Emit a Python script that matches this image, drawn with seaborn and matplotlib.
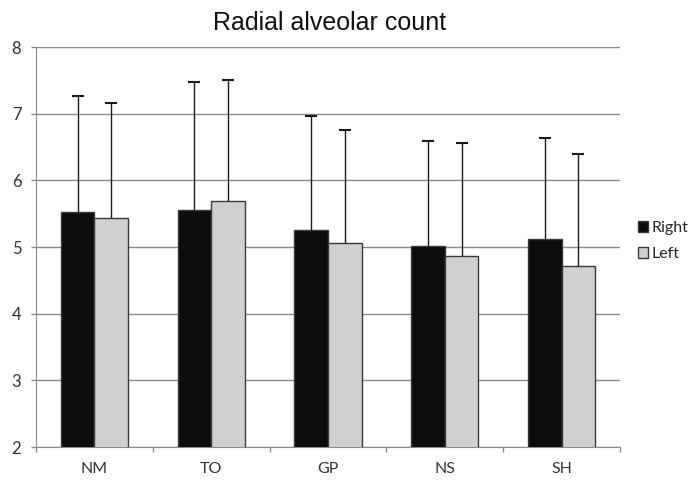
import matplotlib
matplotlib.use("Agg")
import matplotlib.pyplot as plt
import seaborn as sns
import pandas as pd
import numpy as np

categories = ["NM", "TO", "GP", "NS", "SH"]
right_mean = [5.53, 5.55, 5.26, 5.02, 5.12]
left_mean = [5.44, 5.69, 5.06, 4.87, 4.72]
right_top = [7.26, 7.47, 6.97, 6.59, 6.63]
left_top = [7.16, 7.51, 6.75, 6.56, 6.39]
series = ["Right", "Left"]
yticks = [2, 3, 4, 5, 6, 7, 8]

df = pd.DataFrame({
    "group": categories * 2,
    "side": [series[0]] * len(categories) + [series[1]] * len(categories),
    "value": right_mean + left_mean,
})

sns.set_style("white")
plt.rcParams['font.family'] = ['Lato', 'DejaVu Sans']

fig = plt.figure(figsize=(6.94, 4.80), dpi=100)
ax = fig.add_axes([36/694, 1-447/480, (620-36)/694, 400/480])

sns.barplot(data=df, x="group", y="value", hue="side", order=categories,
            hue_order=series, palette=["#0c0c0c", "#d0d0d0"], width=0.574,
            edgecolor="#3a3a3a", linewidth=1.0, ax=ax, errorbar=None,
            legend=True, zorder=3)

tops = [right_top, left_top]
means = [right_mean, left_mean]
for cont, top, mean in zip(ax.containers, tops, means):
    xs = [p.get_x() + p.get_width() / 2 for p in cont.patches]
    err = np.array(top) - np.array(mean)
    eb = ax.errorbar(xs, mean, yerr=[np.zeros_like(err), err], fmt="none",
                     ecolor="#1a1a1a", elinewidth=1.0, capsize=4, capthick=1.5,
                     zorder=4)
    caplines = eb[1]
    if len(caplines) == 2:
        caplines[0].remove()

ax.set_ylim(2, 8)
ax.set_xlim(-0.5, len(categories) - 0.5)
ax.set_yticks(yticks)
ax.yaxis.grid(True, color="#8a8a8a", linewidth=1.0, zorder=0)
ax.set_axisbelow(True)
ax.set_xlabel("")
ax.set_ylabel("")
for s in ["top", "right"]:
    ax.spines[s].set_visible(False)
ax.spines["left"].set_color("#8a8a8a")
ax.spines["bottom"].set_color("#8a8a8a")
ax.tick_params(axis="y", length=3.6, color="#8a8a8a", width=1, labelsize=12,
               labelcolor="#333333", pad=7, left=True)
ax.set_xticks(range(len(categories)))
ax.set_xticklabels(categories)
ax.set_xticks(np.arange(-0.5, len(categories)), minor=True)
ax.tick_params(axis="x", which="major", length=0, labelsize=11.5, labelcolor="#333333", pad=11)
ax.tick_params(axis="x", which="minor", length=3.6, color="#8a8a8a", width=1, bottom=True)

fig.text(0.475, 0.953, "Radial alveolar count", ha="center", va="center",
         fontsize=18, family=["Liberation Sans", "DejaVu Sans"], color="#111111")

handles, labels = ax.get_legend_handles_labels()
ax.legend(handles, labels, loc="center left", bbox_to_anchor=(1.02, 0.515),
          frameon=False, fontsize=11.5, handlelength=0.65, handleheight=0.65,
          handletextpad=0.2, labelspacing=0.75, borderaxespad=0)

fig.savefig("out.png", dpi=100)
